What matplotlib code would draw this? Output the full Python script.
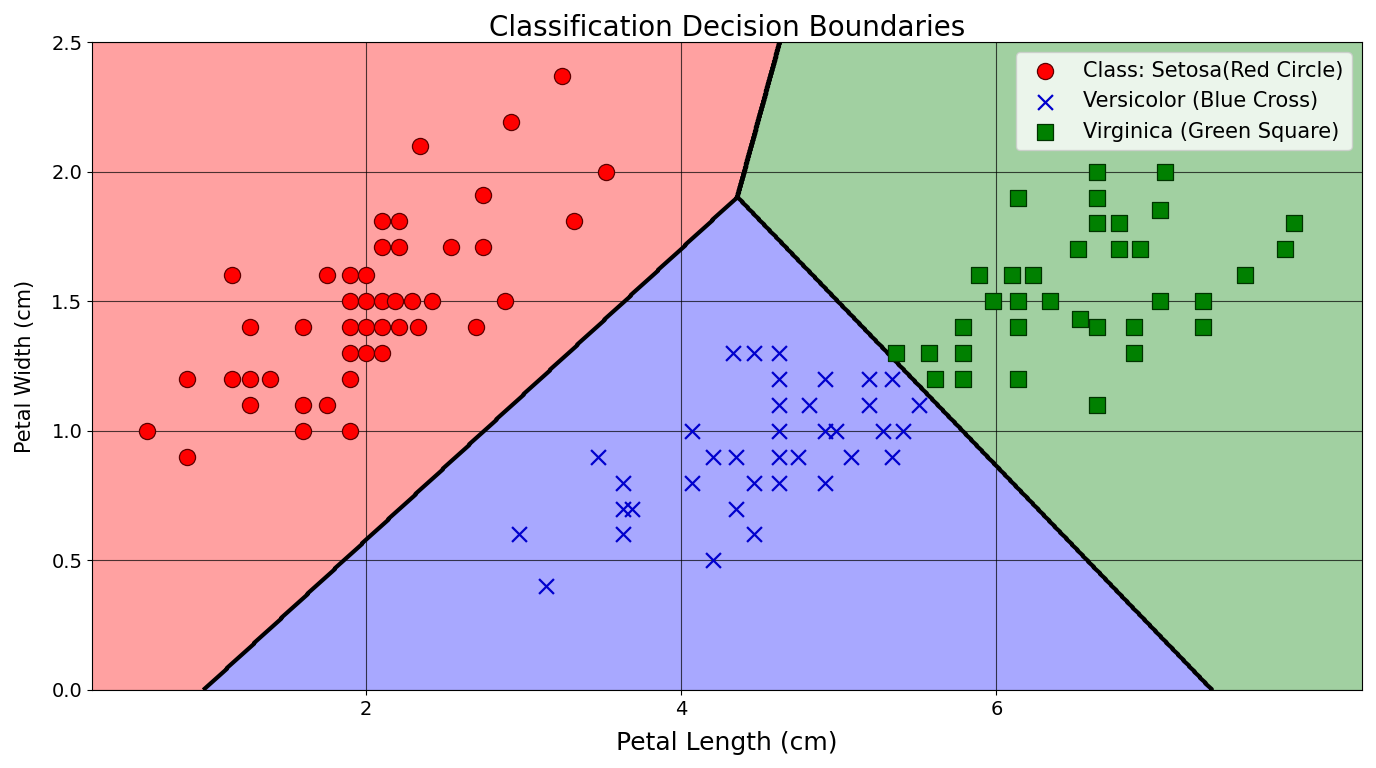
import numpy as np
import matplotlib
matplotlib.use("Agg")
import matplotlib.pyplot as plt
from matplotlib.colors import to_rgba

# ---------------- data ----------------
setosa_x = [1.15, 1.75, 1.90, 2.00,
            1.90, 2.00, 2.10, 2.18, 2.29, 2.42, 2.88,
            1.26, 1.60, 1.90, 2.00, 2.10, 2.21, 2.33, 2.70,
            1.90, 2.00, 2.10,
            0.86, 1.15, 1.26, 1.39, 1.90,
            1.26, 1.60, 1.75,
            0.61, 1.60, 1.90,
            0.86,
            3.24, 2.92, 2.34, 3.52, 2.74,
            2.10, 2.21, 3.32,
            2.10, 2.21, 2.54, 2.74]
setosa_y = [1.6, 1.6, 1.6, 1.6,
            1.5, 1.5, 1.5, 1.5, 1.5, 1.5, 1.5,
            1.4, 1.4, 1.4, 1.4, 1.4, 1.4, 1.4, 1.4,
            1.3, 1.3, 1.3,
            1.2, 1.2, 1.2, 1.2, 1.2,
            1.1, 1.1, 1.1,
            1.0, 1.0, 1.0,
            0.9,
            2.37, 2.19, 2.10, 2.00, 1.91,
            1.81, 1.81, 1.81,
            1.71, 1.71, 1.71, 1.71]

versicolor_x = [4.33, 4.46, 4.62,
                4.62, 4.91, 5.19, 5.34,
                4.62, 4.81, 5.19, 5.51,
                4.07, 4.62, 4.91, 4.98, 5.28, 5.41,
                3.47, 4.20, 4.35, 4.62, 4.74, 5.08, 5.34,
                3.63, 4.07, 4.46, 4.62, 4.91,
                3.63, 3.69, 4.35,
                2.97, 3.63, 4.46,
                4.20,
                3.14]
versicolor_y = [1.3, 1.3, 1.3,
                1.2, 1.2, 1.2, 1.2,
                1.1, 1.1, 1.1, 1.1,
                1.0, 1.0, 1.0, 1.0, 1.0, 1.0,
                0.9, 0.9, 0.9, 0.9, 0.9, 0.9, 0.9,
                0.8, 0.8, 0.8, 0.8, 0.8,
                0.7, 0.7, 0.7,
                0.6, 0.6, 0.6,
                0.5,
                0.4]

virginica_x = [6.64, 7.07,
               6.14, 6.64,
               7.04,
               6.64, 6.78, 7.89,
               6.52, 6.78, 6.91, 7.83,
               5.89, 6.10, 6.23, 7.58,
               5.98, 6.14, 6.34, 7.04, 7.31,
               6.53,
               5.79, 6.14, 6.64, 6.87, 7.31,
               5.36, 5.57, 5.79, 6.87,
               5.61, 5.79, 6.14,
               6.64]
virginica_y = [2.0, 2.0,
               1.9, 1.9,
               1.85,
               1.8, 1.8, 1.8,
               1.7, 1.7, 1.7, 1.7,
               1.6, 1.6, 1.6, 1.6,
               1.5, 1.5, 1.5, 1.5, 1.5,
               1.43,
               1.4, 1.4, 1.4, 1.4, 1.4,
               1.3, 1.3, 1.3, 1.3,
               1.2, 1.2, 1.2,
               1.1]

class_labels = ["Class: Setosa(Red Circle)", "Versicolor (Blue Cross)",
                "Virginica (Green Square)"]

# linear classifier (one score per class) that defines the decision regions
class_weights = [[-0.5614, 1.0], [0.0, 0.0], [0.3675, 0.5821]]
class_bias = [0.5434, 0.0, -2.708]

x_limits = [0.26, 8.32]
y_limits = [0.0, 2.5]
x_ticks = [2, 4, 6]
y_ticks = [0.0, 0.5, 1.0, 1.5, 2.0, 2.5]

# ---------------- figure ----------------
fig = plt.figure(figsize=(13.76, 7.68), dpi=100)
ax = fig.add_axes([0.0669, 0.1016, 0.9229, 0.8437])

gx = np.linspace(x_limits[0], x_limits[1], 1400)
gy = np.linspace(y_limits[0], y_limits[1], 800)
XX, YY = np.meshgrid(gx, gy)
W = np.array(class_weights)
b = np.array(class_bias)
scores = (W[:, 0][:, None, None] * XX[None] + W[:, 1][:, None, None] * YY[None]
          + b[:, None, None])
Z = np.argmax(scores, axis=0)

region_colors = [to_rgba("red", 0.37), to_rgba("blue", 0.34), to_rgba("green", 0.37)]
ax.contourf(XX, YY, Z, levels=[-0.5, 0.5, 1.5, 2.5],
            colors=region_colors, zorder=1)
ax.contour(XX, YY, Z, levels=[0.5, 1.5], colors="black",
           linewidths=3.0, zorder=2)

ax.grid(True, color="black", linewidth=0.8, alpha=0.7)

ax.scatter(setosa_x, setosa_y, s=135, c="red", marker="o",
           edgecolors="#5a0000", linewidths=0.9, zorder=3, label=class_labels[0])
ax.scatter(versicolor_x, versicolor_y, s=115, c="mediumblue", marker="x",
           linewidths=1.6, zorder=3, label=class_labels[1])
ax.scatter(virginica_x, virginica_y, s=135, c="green", marker="s",
           edgecolors="#003300", linewidths=0.9, zorder=3, label=class_labels[2])

ax.set_xlim(x_limits)
ax.set_ylim(y_limits)
ax.set_xticks(x_ticks)
ax.set_yticks(y_ticks)
ax.set_yticklabels([f"{v:.1f}" for v in y_ticks])
ax.tick_params(labelsize=14)

ax.set_title("Classification Decision Boundaries", fontsize=20, pad=4)
ax.set_xlabel("Petal Length (cm)", fontsize=18, labelpad=9)
ax.set_ylabel("Petal Width (cm)", fontsize=15, labelpad=12)

ax.legend(loc="upper right", fontsize=15)

fig.savefig("out.png", dpi=100)
